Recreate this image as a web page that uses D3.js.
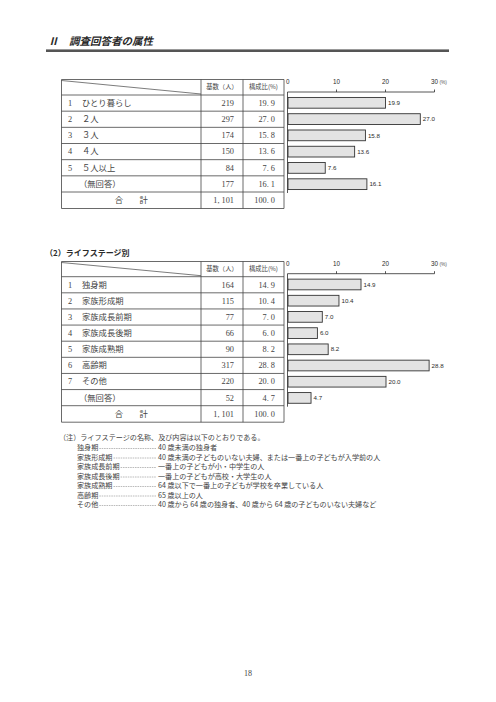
<!DOCTYPE html>
<html lang="ja">
<head>
<meta charset="UTF-8">
<title>調査回答者の属性</title>
<style>
  body { margin: 0; background: #fff; }
  svg { display: block; }
  .jp { font-family: "Noto Sans CJK JP", "Noto Sans", sans-serif; }
  .num { font-family: "Liberation Serif", "DejaVu Serif", serif; }
  .sans { font-family: "Liberation Sans", Arial, sans-serif; }
</style>
</head>
<body>
<svg id="page" width="496" height="702"></svg>

<script src="https://d3js.org/d3.v7.min.js"></script>
<script>
  // --- household size table
  const hhNums = ["1", "2", "3", "4", "5", ""];
  const hhLabels = ["ひとり暮らし", "２人", "３人", "４人", "５人以上", "（無回答）"];
  const hhCounts = [219, 297, 174, 150, 84, 177];
  const hhPcts = [19.9, 27.0, 15.8, 13.6, 7.6, 16.1];
  const hhTotal = [1101, 100.0];

  // --- life stage table
  const lsNums = ["1", "2", "3", "4", "5", "6", "7", ""];
  const lsLabels = ["独身期", "家族形成期", "家族成長前期", "家族成長後期", "家族成熟期", "高齢期", "その他", "（無回答）"];
  const lsCounts = [164, 115, 77, 66, 90, 317, 220, 52];
  const lsPcts = [14.9, 10.4, 7.0, 6.0, 8.2, 28.8, 20.0, 4.7];
  const lsTotal = [1101, 100.0];

  const ticks = [0, 10, 20, 30];

  const noteHead = "（注）ライフステージの名称、及び内容は以下のとおりである。";
  const noteTerms = ["独身期", "家族形成期", "家族成長前期", "家族成長後期", "家族成熟期", "高齢期", "その他"];
  const noteDescs = [
    "40 歳未満の独身者",
    "40 歳未満の子どものいない夫婦、または一番上の子どもが入学前の人",
    "一番上の子どもが小・中学生の人",
    "一番上の子どもが高校・大学生の人",
    "64 歳以下で一番上の子どもが学校を卒業している人",
    "65 歳以上の人",
    "40 歳から 64 歳の独身者、40 歳から 64 歳の子どものいない夫婦など"
  ];

  const svg = d3.select("#page");
  const ink = "#2b2b2b";

  // page title + rule
  svg.append("text")
    .attr("class", "jp")
    .attr("x", 48).attr("y", 45)
    .attr("font-size", 10.5)
    .attr("font-weight", "bold")
    .attr("font-style", "italic")
    .attr("fill", ink)
    .text("Ⅱ　調査回答者の属性");

  svg.append("rect")
    .attr("x", 46).attr("y", 49)
    .attr("width", 403).attr("height", 3)
    .attr("fill", "#555");
  svg.append("line")
    .attr("x1", 46).attr("x2", 449).attr("y1", 49.5).attr("y2", 49.5)
    .attr("stroke", "#999").attr("stroke-width", 1);

  const fmtCount = n => d3.format(",")(n).replace(",", ", ");
  const fmtPct = p => p.toFixed(1).replace(".", ". ");

  function drawTable(top, rowsTop, rowsBottom, nums, labels, counts, pcts, total) {
    const g = svg.append("g");
    const x0 = 61.5, x1 = 201, x2 = 243, x3 = 284;
    const totalBottom = rowsBottom + 16.5;

    const y = d3.scaleBand()
      .domain(d3.range(labels.length))
      .range([rowsTop, rowsBottom]);

    // grid lines
    const hl = [top, rowsTop].concat(d3.range(1, labels.length).map(i => y(i)), [rowsBottom, totalBottom]);
    g.selectAll("line.h")
      .data(hl)
      .join("line")
      .attr("x1", x0).attr("x2", x3)
      .attr("y1", d => d).attr("y2", d => d)
      .attr("stroke", "#444").attr("stroke-width", 0.8);
    g.selectAll("line.v")
      .data([x0, x1, x2, x3])
      .join("line")
      .attr("x1", d => d).attr("x2", d => d)
      .attr("y1", top).attr("y2", totalBottom)
      .attr("stroke", "#444").attr("stroke-width", 0.8);

    // diagonal in header corner
    g.append("line")
      .attr("x1", x0).attr("y1", top + 1)
      .attr("x2", x1).attr("y2", rowsTop - 1)
      .attr("stroke", "#444").attr("stroke-width", 0.7);

    g.append("text").attr("class", "jp")
      .attr("x", (x1 + x2) / 2).attr("y", (top + rowsTop) / 2)
      .attr("dy", "0.35em").attr("text-anchor", "middle")
      .attr("font-size", 6.3).attr("fill", "#444")
      .text("基数（人）");
    g.append("text").attr("class", "jp")
      .attr("x", (x2 + x3) / 2).attr("y", (top + rowsTop) / 2)
      .attr("dy", "0.35em").attr("text-anchor", "middle")
      .attr("font-size", 6.3).attr("fill", "#444")
      .text("構成比(%)");

    const row = g.selectAll("g.row")
      .data(labels.map((l, i) => ({ num: nums[i], label: l, count: counts[i], pct: pcts[i], i })))
      .join("g")
      .attr("transform", d => `translate(0,${y(d.i) + y.bandwidth() / 2})`);

    row.append("text").attr("class", "num")
      .attr("x", 68).attr("dy", "0.35em")
      .attr("font-size", 8.3).attr("fill", "#444")
      .text(d => d.num);
    row.append("text").attr("class", "jp")
      .attr("x", d => d.num ? 82 : 79)
      .attr("dy", "0.35em")
      .attr("font-size", 8.3).attr("fill", "#444")
      .text(d => d.label);
    row.append("text").attr("class", "num")
      .attr("x", x2 - 9).attr("dy", "0.35em").attr("text-anchor", "end")
      .attr("font-size", 8.3).attr("fill", "#444")
      .text(d => fmtCount(d.count));
    row.append("text").attr("class", "num")
      .attr("x", x3 - 9).attr("dy", "0.35em").attr("text-anchor", "end")
      .attr("font-size", 8.3).attr("fill", "#444")
      .text(d => fmtPct(d.pct));

    const ty = (rowsBottom + totalBottom) / 2;
    g.append("text").attr("class", "jp")
      .attr("x", (x0 + x1) / 2).attr("y", ty).attr("dy", "0.35em")
      .attr("text-anchor", "middle").attr("font-size", 8.3).attr("fill", "#444")
      .text("合　　計");
    g.append("text").attr("class", "num")
      .attr("x", x2 - 9).attr("y", ty).attr("dy", "0.35em").attr("text-anchor", "end")
      .attr("font-size", 8.3).attr("fill", "#444")
      .text(fmtCount(total[0]));
    g.append("text").attr("class", "num")
      .attr("x", x3 - 9).attr("y", ty).attr("dy", "0.35em").attr("text-anchor", "end")
      .attr("font-size", 8.3).attr("fill", "#444")
      .text(fmtPct(total[1]));

    // bar chart next to the table
    const x = d3.scaleLinear().domain([0, 30]).range([287.5, 434.5]);
    const axisY = rowsTop - 3;
    const yb = d3.scaleBand()
      .domain(d3.range(labels.length))
      .range([rowsTop, rowsBottom])
      .paddingInner(0.34).paddingOuter(0.15);

    const c = svg.append("g");
    c.append("line")
      .attr("x1", x(0)).attr("x2", x(30))
      .attr("y1", axisY).attr("y2", axisY)
      .attr("stroke", ink).attr("stroke-width", 0.8);
    c.append("line")
      .attr("x1", x(0)).attr("x2", x(0))
      .attr("y1", axisY).attr("y2", rowsBottom + 1)
      .attr("stroke", ink).attr("stroke-width", 0.8);
    c.selectAll("line.tick")
      .data(ticks.slice(1))
      .join("line")
      .attr("x1", d => x(d)).attr("x2", d => x(d))
      .attr("y1", axisY - 2.5).attr("y2", axisY)
      .attr("stroke", ink).attr("stroke-width", 0.8);
    c.selectAll("text.tick")
      .data(ticks)
      .join("text")
      .attr("class", "sans")
      .attr("x", d => d === 0 ? x(d) - 1.5 : x(d))
      .attr("y", axisY - 8)
      .attr("text-anchor", d => d === 0 ? "start" : "middle")
      .attr("font-size", 6.3).attr("fill", ink)
      .text(d => d);
    c.append("text").attr("class", "sans")
      .attr("x", x(30) + 5).attr("y", axisY - 8)
      .attr("font-size", 4.8).attr("fill", "#555")
      .text("(%)");

    c.selectAll("rect.bar")
      .data(pcts)
      .join("rect")
      .attr("x", x(0) + 0.5)
      .attr("y", (d, i) => yb(i))
      .attr("width", d => x(d) - x(0))
      .attr("height", yb.bandwidth())
      .attr("fill", "#e3e3e3")
      .attr("stroke", "#333").attr("stroke-width", 0.9);
    c.selectAll("text.val")
      .data(pcts)
      .join("text")
      .attr("class", "sans")
      .attr("x", d => x(d) + 3)
      .attr("y", (d, i) => yb(i) + yb.bandwidth() / 2)
      .attr("dy", "0.35em")
      .attr("font-size", 6.2).attr("fill", ink)
      .text(d => d.toFixed(1));
  }

  drawTable(79.5, 95, 192, hhNums, hhLabels, hhCounts, hhPcts, hhTotal);

  svg.append("text").attr("class", "jp")
    .attr("x", 45).attr("y", 256)
    .attr("font-size", 8).attr("font-weight", "bold").attr("fill", ink)
    .text("（2）ライフステージ別");

  drawTable(261.5, 276.7, 405.7, lsNums, lsLabels, lsCounts, lsPcts, lsTotal);

  // notes
  const notes = svg.append("g").attr("class", "jp").attr("fill", "#444").attr("font-size", 7.1);
  notes.append("text").attr("x", 59).attr("y", 438).attr("dy", "0.35em").text(noteHead);
  const ny = d3.scaleLinear().domain([0, 6]).range([448, 505]);
  noteTerms.forEach((t, i) => {
    const lbl = notes.append("text").attr("x", 77).attr("y", ny(i)).attr("dy", "0.35em").text(t);
    const w = lbl.node().getComputedTextLength();
    notes.append("line")
      .attr("x1", 77 + w + 1).attr("x2", 156)
      .attr("y1", ny(i) + 0.5).attr("y2", ny(i) + 0.5)
      .attr("stroke", "#777").attr("stroke-width", 0.5)
      .attr("stroke-dasharray", "1.6,0.8");
    notes.append("text").attr("x", 158).attr("y", ny(i)).attr("dy", "0.35em").text(noteDescs[i]);
  });

  svg.append("text").attr("class", "num")
    .attr("x", 248).attr("y", 673).attr("dy", "0.35em")
    .attr("text-anchor", "middle").attr("font-size", 8).attr("fill", "#444")
    .text("18");
</script>
</body>
</html>
